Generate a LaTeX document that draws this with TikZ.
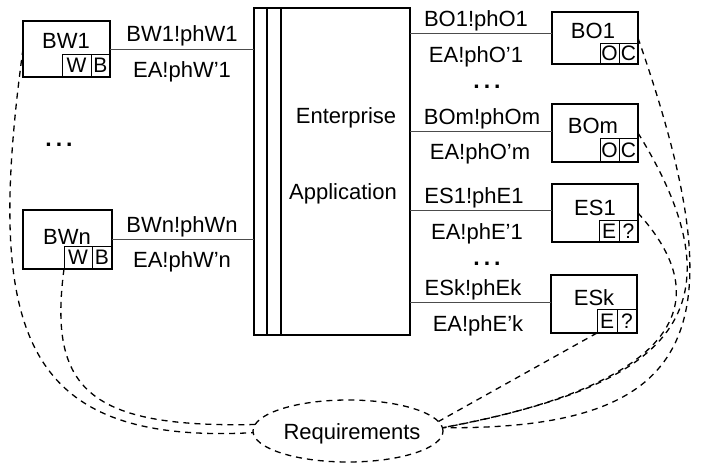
\documentclass[tikz,border=0pt]{standalone}
\usepackage{fontspec}
\setmainfont{Liberation Sans}
\usetikzlibrary{calc,shapes.geometric}
\begin{document}
\begin{tikzpicture}[x=1pt,y=-1pt,
  every node/.style={inner sep=0pt, outer sep=0pt},
  box/.style={draw, line width=1.4pt},
  cell/.style={draw, line width=0.8pt, font=\fontsize{21}{21}\selectfont},
  txt/.style={font=\fontsize{22}{22}\selectfont, anchor=base},
  link/.style={line width=0.8pt, black!70},
  dots/.style={font=\fontsize{23}{23}\selectfont\bfseries, anchor=base},
  req/.style={dash pattern=on 6pt off 5pt, line width=1.3pt}]
\useasboundingbox (0,0) rectangle (703,463);

% Enterprise application
\node[box, minimum width=156pt, minimum height=327pt] (ea) at (332,171.5) {};
\draw[line width=1.3pt] ($(ea.north west)+(13,0)$) -- ($(ea.south west)+(13,0)$);
\draw[line width=1.3pt] ($(ea.north west)+(27,0)$) -- ($(ea.south west)+(27,0)$);
\node[txt] (eat1) at (346,123) {Enterprise};
\node[txt] (eat2) at (343,199) {Application};

% left boxes
\node[box, minimum width=87pt, minimum height=56pt] (bw1) at (66.5,49) {};
\node[txt] (bw1t) at (66,48) {BW1};
\node[cell, minimum width=29pt, minimum height=23pt] (bw1w) at (76.5,65.5) {W};
\node[cell, minimum width=19pt, minimum height=23pt] (bw1b) at (100.5,65.5) {B};

\node[box, minimum width=89pt, minimum height=59pt] (bwn) at (67.5,239.5) {};
\node[txt] (bwnt) at (67,244) {BWn};
\node[cell, minimum width=28pt, minimum height=23pt] (bwnw) at (78,257.5) {W};
\node[cell, minimum width=20pt, minimum height=23pt] (bwnb) at (102,257.5) {B};

\node[dots] (ldots) at (59,146) {.\hspace{4pt}.\hspace{4pt}.};

% right boxes
\node[box, minimum width=86pt, minimum height=52pt] (bo1) at (595,38) {};
\node[txt] (bo1t) at (593,38) {BO1};
\node[cell, minimum width=19pt, minimum height=21pt] (bo1o) at (609.5,53.5) {O};
\node[cell, minimum width=19pt, minimum height=21pt] (bo1c) at (628.5,53.5) {C};

\node[box, minimum width=86pt, minimum height=58pt] (bom) at (595,133) {};
\node[txt] (bomt) at (593,133) {BOm};
\node[cell, minimum width=19pt, minimum height=24pt] (bomo) at (609.5,150) {O};
\node[cell, minimum width=19pt, minimum height=24pt] (bomc) at (628.5,150) {C};

\node[box, minimum width=86pt, minimum height=58pt] (es1) at (595,213) {};
\node[txt] (es1t) at (595,215) {ES1};
\node[cell, minimum width=20pt, minimum height=22pt] (es1e) at (609,231) {E};
\node[cell, minimum width=19pt, minimum height=22pt] (es1q) at (628.5,231) {?};

\node[box, minimum width=86pt, minimum height=58pt] (esk) at (594,304) {};
\node[txt] (eskt) at (594,305) {ESk};
\node[cell, minimum width=20pt, minimum height=24pt] (eske) at (607,321) {E};
\node[cell, minimum width=20pt, minimum height=24pt] (eskq) at (627,321) {?};

\node[dots] (rdots1) at (487,88) {.\hspace{4pt}.\hspace{4pt}.};
\node[dots] (rdots2) at (487,265) {.\hspace{4pt}.\hspace{4pt}.};

% links
\draw[link] (bw1.east) -- (bw1.east -| ea.west);
\draw[link] (bwn.east) -- (bwn.east -| ea.west);
\coordinate (bo1l) at ($(bo1.west)+(0,-5)$);
\coordinate (boml) at ($(bom.west)+(0,-2)$);
\coordinate (es1l) at ($(es1.west)+(0,-3)$);
\coordinate (eskl) at ($(esk.west)+(0,-2)$);
\draw[link] (bo1l -| ea.east) -- (bo1l);
\draw[link] (boml -| ea.east) -- (boml);
\draw[link] (es1l -| ea.east) -- (es1l);
\draw[link] (eskl -| ea.east) -- (eskl);

% link labels
\node[txt] (lb1) at (182,41) {BW1!phW1};
\node[txt] (lb2) at (182,77) {EA!phW’1};
\node[txt] (lb3) at (182,232) {BWn!phWn};
\node[txt] (lb4) at (182,267) {EA!phW’n};
\node[txt] (rb1) at (476,26) {BO1!phO1};
\node[txt] (rb2) at (476,62) {EA!phO’1};
\node[txt] (rb3) at (482,124) {BOm!phOm};
\node[txt] (rb4) at (480,159) {EA!phO’m};
\node[txt] (rb5) at (474,203) {ES1!phE1};
\node[txt] (rb6) at (477,239) {EA!phE’1};
\node[txt] (rb7) at (473,295) {ESk!phEk};
\node[txt] (rb8) at (478,331) {EA!phE’k};

% requirements
\node[ellipse, draw, req, minimum width=190pt, minimum height=62pt] (req) at (348,431) {};
\node[font=\fontsize{22}{22}\selectfont] (reqt) at (352,434) {Requirements};

\draw[req] (bw1.west) .. controls (-15,330) and (20,445) .. (req.181);
\draw[req] (bwnw.south west) .. controls (48,390) and (90,428) .. (req.176);
\draw[req] (bo1.east) .. controls (740,330) and (700,430) .. (req.2);
\draw[req] (bom.east) .. controls (760,330) and (640,390) .. (req.2);
\draw[req] (es1.east) .. controls (735,320) and (640,392) .. (req.2);
\draw[req] (eske.south west) -- (req.6);
\end{tikzpicture}
\end{document}
